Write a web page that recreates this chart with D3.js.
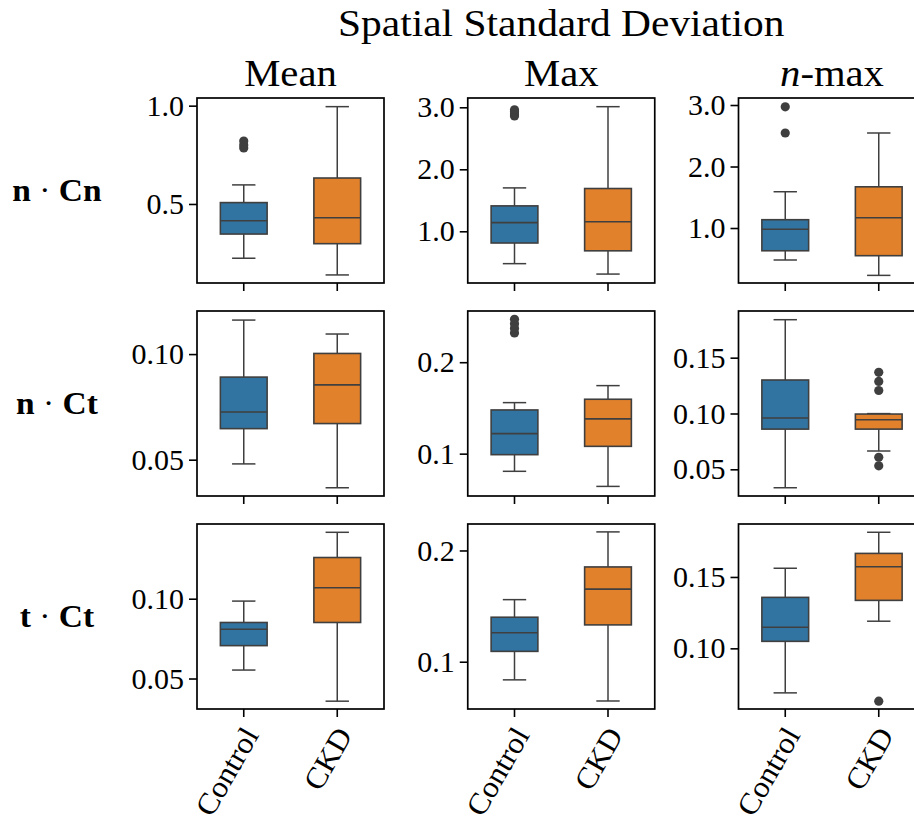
<!DOCTYPE html>
<html>
<head>
<meta charset="utf-8">
<script src="https://cdn.jsdelivr.net/npm/d3@7"></script>
<style>
  html, body { margin: 0; padding: 0; background: #ffffff; }
  svg { display: block; font-family: "Liberation Serif", "Times New Roman", serif; }
</style>
</head>
<body>
<svg id="chart" width="914" height="821"></svg>
<script>
// Categories and panel labels
const groups = ["Control", "CKD"];
const columnTitles = ["Mean", "Max", "n-max"];
const rowLabels = [["n", "Cn"], ["n", "Ct"], ["t", "Ct"]];

// Five-number summaries per group: [lower whisker, Q1, median, Q3, upper whisker]
const nCnMean = [[0.224, 0.347, 0.415, 0.507, 0.597], [0.139, 0.298, 0.430, 0.632, 0.995]];
const nCnMax  = [[0.478, 0.811, 1.140, 1.410, 1.700], [0.310, 0.685, 1.155, 1.690, 3.010]];
const nCnNmax = [[0.480, 0.630, 0.980, 1.135, 1.590], [0.230, 0.550, 1.167, 1.670, 2.545]];
const nCtMean = [[0.0480, 0.0647, 0.0726, 0.0891, 0.1161], [0.0367, 0.0671, 0.0854, 0.1003, 0.1095]];
const nCtMax  = [[0.0807, 0.0989, 0.1219, 0.1478, 0.1558], [0.0642, 0.1080, 0.1380, 0.1595, 0.1744]];
const nCtNmax = [[0.0335, 0.0860, 0.0959, 0.1300, 0.1840], [0.0664, 0.0860, 0.0944, 0.0995, 0.0999]];
const tCtMean = [[0.0553, 0.0706, 0.0809, 0.0851, 0.0985], [0.0358, 0.0851, 0.1069, 0.1258, 0.1416]];
const tCtMax  = [[0.0837, 0.1093, 0.1260, 0.1400, 0.1558], [0.0647, 0.1331, 0.1653, 0.1852, 0.2167]];
const tCtNmax = [[0.0688, 0.1049, 0.1148, 0.1357, 0.1561], [0.1190, 0.1336, 0.1571, 0.1665, 0.1813]];

// Points beyond the whiskers, per group
const nCnMeanOut = [[0.785, 0.800, 0.820], []];
const nCnMaxOut  = [[2.86, 2.89, 2.93, 2.96], []];
const nCnNmaxOut = [[2.545, 2.97], []];
const nCtMeanOut = [[], []];
const nCtMaxOut  = [[0.232, 0.237, 0.242, 0.247], []];
const nCtNmaxOut = [[], [0.0531, 0.0608, 0.1206, 0.1287, 0.1369]];
const tCtMeanOut = [[], []];
const tCtMaxOut  = [[], []];
const tCtNmaxOut = [[], [0.063]];

// Axis limits and tick values, row by row
const yLimits = [
  [0.098, 1.039], [0.166, 3.15], [0.106, 3.114],
  [0.0328, 0.1204], [0.0537, 0.256], [0.0261, 0.1918],
  [0.0309, 0.1468], [0.0575, 0.2238], [0.0575, 0.1871]
];
const yTicks = [
  [0.5, 1.0], [1, 2, 3], [1, 2, 3],
  [0.05, 0.10], [0.1, 0.2], [0.05, 0.10, 0.15],
  [0.05, 0.10], [0.1, 0.2], [0.10, 0.15]
];
const tickDecimals = [1, 1, 1, 2, 1, 2, 2, 1, 2];

const summaries = [nCnMean, nCnMax, nCnNmax, nCtMean, nCtMax, nCtNmax, tCtMean, tCtMax, tCtNmax];
const outliers = [nCnMeanOut, nCnMaxOut, nCnNmaxOut, nCtMeanOut, nCtMaxOut, nCtNmaxOut, tCtMeanOut, tCtMaxOut, tCtNmaxOut];

// Layout and style
const panelW = 187, panelH = 185;
const left0 = 197, top0 = 98, colStep = 270.75, rowStep = 213;
const colors = ["#3274a1", "#e1812c"];
const lineColor = "#3f3f3f";
const tickFont = 30, titleFont = 37;

const svg = d3.select("#chart");

const x = d3.scaleBand().domain(groups).range([0, panelW]);
const boxW = x.bandwidth() * 0.5;
const capW = boxW * 0.5;

summaries.forEach((stats, k) => {
  const r = Math.floor(k / 3), c = k % 3;
  const g = svg.append("g")
    .attr("transform", `translate(${left0 + c * colStep},${top0 + r * rowStep})`);

  const y = d3.scaleLinear().domain(yLimits[k]).range([panelH, 0]);

  // y axis
  const yAxis = d3.axisLeft(y)
    .tickValues(yTicks[k])
    .tickFormat(d3.format(`.${tickDecimals[k]}f`))
    .tickSize(8)
    .tickPadding(5);
  const ya = g.append("g").call(yAxis);
  ya.select(".domain").remove();
  ya.selectAll(".tick line").attr("stroke", "#000").attr("stroke-width", 1.6);
  ya.selectAll(".tick text")
    .attr("font-family", "Liberation Serif, serif")
    .attr("font-size", tickFont)
    .attr("fill", "#000");

  // x axis
  const xAxis = d3.axisBottom(x).tickSize(8).tickFormat("");
  const xa = g.append("g").attr("transform", `translate(0,${panelH})`).call(xAxis);
  xa.select(".domain").remove();
  xa.selectAll(".tick line").attr("stroke", "#000").attr("stroke-width", 1.6);
  xa.selectAll(".tick text").remove();

  if (r === 2) {
    groups.forEach(name => {
      const cx = x(name) + x.bandwidth() / 2;
      g.append("text")
        .attr("transform", `translate(${cx + 16},${panelH + 26}) rotate(-60) scale(1.05,1)`)
        .attr("text-anchor", "end")
        .attr("font-size", tickFont)
        .attr("fill", "#000")
        .text(name);
    });
  }

  // boxes
  groups.forEach((name, gi) => {
    const [lo, q1, med, q3, hi] = stats[gi];
    const cx = x(name) + x.bandwidth() / 2;
    const bg = g.append("g");

    bg.append("line")
      .attr("x1", cx).attr("x2", cx).attr("y1", y(q3)).attr("y2", y(hi))
      .attr("stroke", lineColor).attr("stroke-width", 1.5);
    bg.append("line")
      .attr("x1", cx).attr("x2", cx).attr("y1", y(lo)).attr("y2", y(q1))
      .attr("stroke", lineColor).attr("stroke-width", 1.5);
    [lo, hi].forEach(v => {
      bg.append("line")
        .attr("x1", cx - capW / 2).attr("x2", cx + capW / 2)
        .attr("y1", y(v)).attr("y2", y(v))
        .attr("stroke", lineColor).attr("stroke-width", 1.5);
    });
    bg.append("rect")
      .attr("x", cx - boxW / 2).attr("width", boxW)
      .attr("y", y(q3)).attr("height", y(q1) - y(q3))
      .attr("fill", colors[gi])
      .attr("stroke", lineColor).attr("stroke-width", 1.6);
    bg.append("line")
      .attr("x1", cx - boxW / 2).attr("x2", cx + boxW / 2)
      .attr("y1", y(med)).attr("y2", y(med))
      .attr("stroke", lineColor).attr("stroke-width", 1.6);

    bg.selectAll("circle.flier")
      .data(outliers[k][gi])
      .join("circle")
      .attr("class", "flier")
      .attr("cx", cx).attr("cy", d => y(d)).attr("r", 4.6)
      .attr("fill", lineColor);
  });

  // frame
  g.append("rect")
    .attr("x", 0).attr("y", 0).attr("width", panelW).attr("height", panelH)
    .attr("fill", "none").attr("stroke", "#000").attr("stroke-width", 1.7);

  // column titles on the top row
  if (r === 0) {
    const t = g.append("text")
      .attr("transform", `translate(${panelW / 2},-12) scale(1.1,1)`)
      .attr("text-anchor", "middle")
      .attr("font-size", titleFont)
      .attr("fill", "#000");
    const title = columnTitles[c];
    if (title.startsWith("n-")) {
      t.append("tspan").attr("font-style", "italic").text("n");
      t.append("tspan").text(title.slice(1));
    } else {
      t.text(title);
    }
  }

  // row labels on the first column
  if (c === 0) {
    const lab = g.append("text")
      .attr("transform", `translate(${57 - left0},${panelH / 2 + 10}) scale(1.08,1)`)
      .attr("text-anchor", "middle")
      .attr("font-size", 31)
      .attr("font-weight", "bold")
      .attr("fill", "#000");
    lab.append("tspan").text(rowLabels[r][0]);
    lab.append("tspan").attr("font-weight", "normal").text(" \u00B7 ");
    lab.append("tspan").text(rowLabels[r][1]);
  }
});

// figure title
svg.append("text")
  .attr("transform", `translate(${left0 + colStep + panelW / 2},36) scale(1.12,1)`)
  .attr("text-anchor", "middle")
  .attr("font-size", titleFont)
  .attr("fill", "#000")
  .text("Spatial Standard Deviation");
</script>
</body>
</html>
